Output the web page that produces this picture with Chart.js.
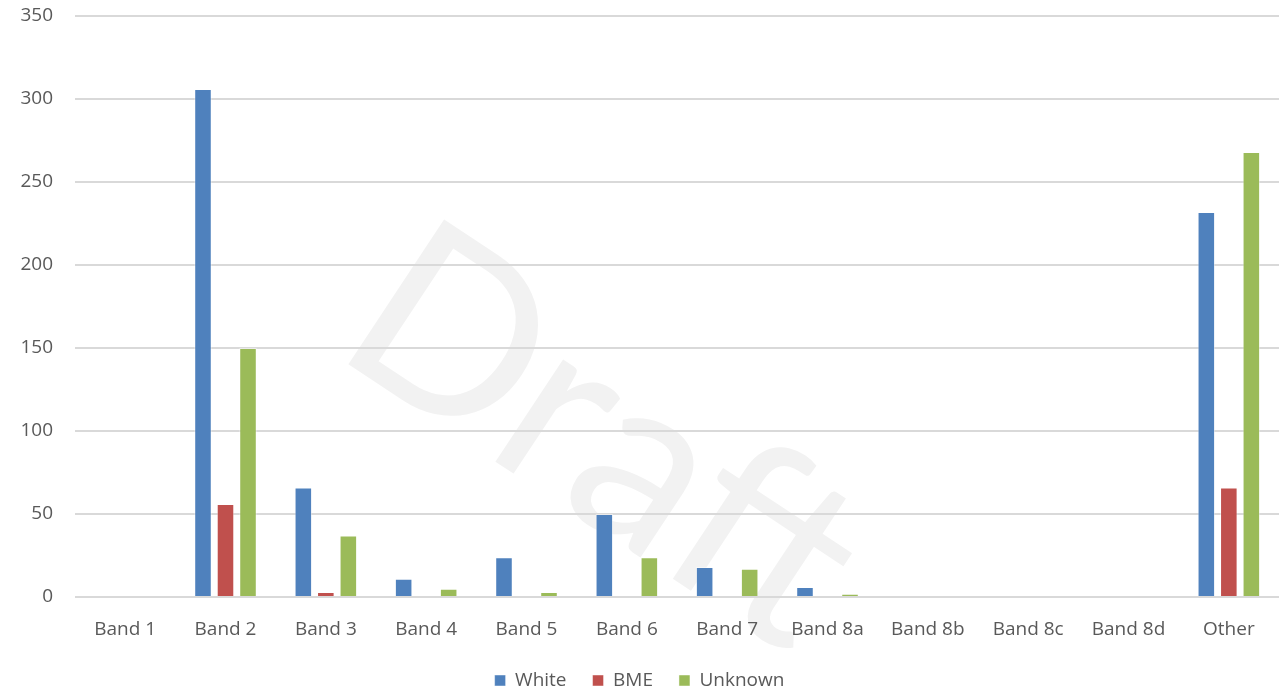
<!DOCTYPE html>
<html>
<head>
<meta charset="utf-8">
<script src="https://cdn.jsdelivr.net/npm/chart.js@4"></script>
<style>
  html, body { margin: 0; padding: 0; background: #ffffff; }
  #wrap { width: 1284px; height: 690px; }
</style>
</head>
<body>
<div id="wrap"><canvas id="bandChart" width="1284" height="690"></canvas></div>
<script>
// Aantallen per band
const bands = ['Band 1', 'Band 2', 'Band 3', 'Band 4', 'Band 5', 'Band 6', 'Band 7', 'Band 8a', 'Band 8b', 'Band 8c', 'Band 8d', 'Other'];
const whiteCounts   = [0, 306, 66, 11, 24, 50, 18, 6, 0, 0, 0, 232];
const bmeCounts     = [0, 56, 3, 0, 0, 0, 0, 0, 0, 0, 0, 66];
const unknownCounts = [0, 150, 37, 5, 3, 24, 17, 2, 0, 0, 0, 268];
const yTicks = [0, 50, 100, 150, 200, 250, 300, 350];

const FONT = '"Open Sans", sans-serif';
const TXT = '#595959';

// grijze "Draft" tekst achter de staven
const watermark = {
    id: 'watermark',
    beforeDraw(chart) {
        const ctx = chart.ctx;
        ctx.save();
        ctx.translate(330, 352);
        ctx.rotate(33.5 * Math.PI / 180);
        ctx.font = '400 242px Lato, sans-serif';
        ctx.fillStyle = '#f2f2f2';
        ctx.textAlign = 'left';
        ctx.textBaseline = 'alphabetic';
        ctx.fillText('Draft', 0, 0);
        ctx.restore();
    }
};

function bar(label, data, color) {
    return {
        label: label,
        data: data,
        backgroundColor: color,
        borderColor: 'rgba(255,255,255,0.45)',
        borderWidth: 1,
        categoryPercentage: 0.673,
        barPercentage: 0.78
    };
}

new Chart(document.getElementById('bandChart'), {
    type: 'bar',
    data: {
        labels: bands,
        datasets: [
            bar('White', whiteCounts, '#4f81bd'),
            bar('BME', bmeCounts, '#c0504d'),
            bar('Unknown', unknownCounts, '#9bbb59')
        ]
    },
    options: {
        responsive: false,
        animation: false,
        layout: { padding: { top: 16, right: 5, bottom: -10, left: 0 } },
        plugins: {
            tooltip: { enabled: false },
            legend: {
                position: 'bottom',
                labels: {
                    boxWidth: 11,
                    boxHeight: 11,
                    padding: 26,
                    color: TXT,
                    font: { family: FONT, size: 19 }
                }
            }
        },
        scales: {
            x: {
                afterFit(scale) { scale.height = 48; },
                grid: { display: false, drawTicks: false },
                border: { display: false },
                ticks: { color: TXT, padding: 21, font: { family: FONT, size: 19 } }
            },
            y: {
                min: 0,
                max: 350,
                afterBuildTicks(scale) { scale.ticks = yTicks.map(v => ({ value: v })); },
                afterFit(scale) {
                    scale.width = 75;
                    // tick-padding niet meetellen boven/onder de as
                    scale.paddingTop = 11;
                    scale.paddingBottom = 11;
                },
                grid: { color: '#d9d9d9', lineWidth: 2, drawTicks: false },
                border: { display: false },
                ticks: { color: TXT, padding: 22, font: { family: FONT, size: 19 } }
            }
        }
    },
    plugins: [watermark]
});
</script>
</body>
</html>
